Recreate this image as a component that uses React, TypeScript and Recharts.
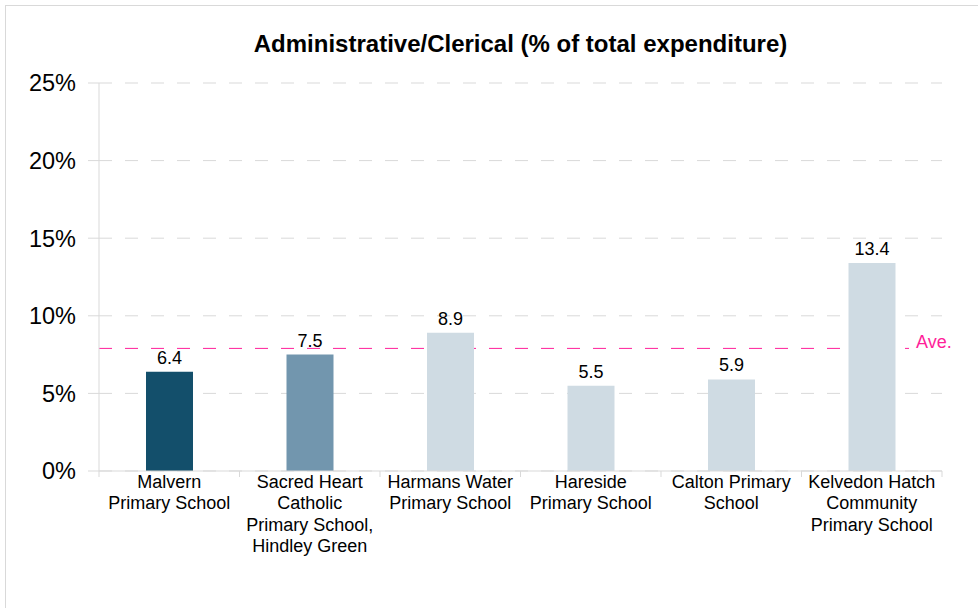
import React from 'react';
import { BarChart, Bar, XAxis, YAxis, CartesianGrid, ReferenceLine, LabelList, Cell } from 'recharts';

const schools = [
  'Malvern Primary School',
  'Sacred Heart Catholic Primary School, Hindley Green',
  'Harmans Water Primary School',
  'Hareside Primary School',
  'Calton Primary School',
  'Kelvedon Hatch Community Primary School',
];
const tickLines = [
  ['Malvern', 'Primary School'],
  ['Sacred Heart', 'Catholic', 'Primary School,', 'Hindley Green'],
  ['Harmans Water', 'Primary School'],
  ['Hareside', 'Primary School'],
  ['Calton Primary', 'School'],
  ['Kelvedon Hatch', 'Community', 'Primary School'],
];
const values = [6.4, 7.5, 8.9, 5.5, 5.9, 13.4];
const barColors = ['#134f6b', '#7296ae', '#cfdbe3', '#cfdbe3', '#cfdbe3', '#cfdbe3'];
const average = 7.9;
const yTicks = [0, 5, 10, 15, 20, 25];

const data = schools.map((name, i) => ({ name, value: values[i] }));

const FONT = '"Liberation Sans", Arial, sans-serif';
const GRID = '#d9d9d9';
const PINK = '#ff1f9a';

const CatTick = (props: any) => {
  const { x, y, index, width, visibleTicksCount } = props;
  const count = visibleTicksCount || schools.length;
  const bw = (width || 843) / count;
  const lines = tickLines[index] || [];
  const left = x - bw / 2;
  const right = x + bw / 2;
  return (
    <g>
      <line x1={left} y1={y} x2={left} y2={y + 6} stroke={GRID} />
      {index === count - 1 && <line x1={right} y1={y} x2={right} y2={y + 6} stroke={GRID} />}
      <text x={x} y={y} textAnchor="middle" fontFamily={FONT} fontSize={18} fill="#000">
        {lines.map((l: string, i: number) => (
          <tspan key={i} x={x} y={y + 17 + i * 21.3}>
            {l}
          </tspan>
        ))}
      </text>
    </g>
  );
};

const AveLabel = (props: any) => {
  const vb = props.viewBox || {};
  const ex = (vb.x || 0) + (vb.width || 0);
  const yy = vb.y || 0;
  return (
    <g>
      <rect x={ex - 33} y={yy - 16} width={60} height={20} fill="#fff" />
      <text x={ex - 26} y={yy} fontFamily={FONT} fontSize={18} fill={PINK}>
        Ave.
      </text>
    </g>
  );
};

export default function App() {
  return (
    <div style={{ position: 'fixed', left: 0, top: 0, width: 978, height: 608, overflow: 'hidden', background: '#fff' }}>
      <div
        style={{
          position: 'absolute',
          left: 5,
          top: 5,
          width: 1100,
          height: 800,
          border: `1px solid ${GRID}`,
          boxSizing: 'border-box',
        }}
      />
      <div
        style={{
          position: 'absolute',
          left: 99,
          width: 843,
          top: 30,
          textAlign: 'center',
          fontFamily: FONT,
          fontWeight: 'bold',
          fontSize: 24,
          color: '#000',
          lineHeight: '28px',
          whiteSpace: 'nowrap',
        }}
      >
        Administrative/Clerical (% of total expenditure)
      </div>
      <div style={{ position: 'absolute', left: 0, top: 0 }}>
        <BarChart width={978} height={608} data={data} margin={{ top: 83, right: 36, bottom: 47, left: 0 }}>
          <CartesianGrid vertical={false} stroke={GRID} strokeDasharray="13 13" />
          <YAxis
            domain={[0, 25]}
            ticks={yTicks}
            tickFormatter={(v: number) => `${v}%`}
            width={99}
            tickSize={11}
            tickMargin={12}
            axisLine={{ stroke: GRID }}
            tickLine={{ stroke: GRID }}
            tick={{ fontFamily: FONT, fontSize: 23.5, fill: '#000' }}
            interval={0}
          />
          <XAxis
            dataKey="name"
            height={90}
            tickSize={0}
            tickMargin={0}
            tickLine={false}
            axisLine={{ stroke: GRID }}
            tick={<CatTick />}
            interval={0}
          />
          <ReferenceLine
            y={average}
            stroke={PINK}
            strokeDasharray="13 13"
            label={<AveLabel />}
            {...({ zIndex: 100 } as any)}
          />
          <Bar dataKey="value" barSize={47} isAnimationActive={false}>
            {data.map((d, i) => (
              <Cell key={d.name} fill={barColors[i]} />
            ))}
            <LabelList dataKey="value" position="top" offset={8} fontFamily={FONT} fontSize={18} fill="#000" />
          </Bar>
        </BarChart>
      </div>
    </div>
  );
}
